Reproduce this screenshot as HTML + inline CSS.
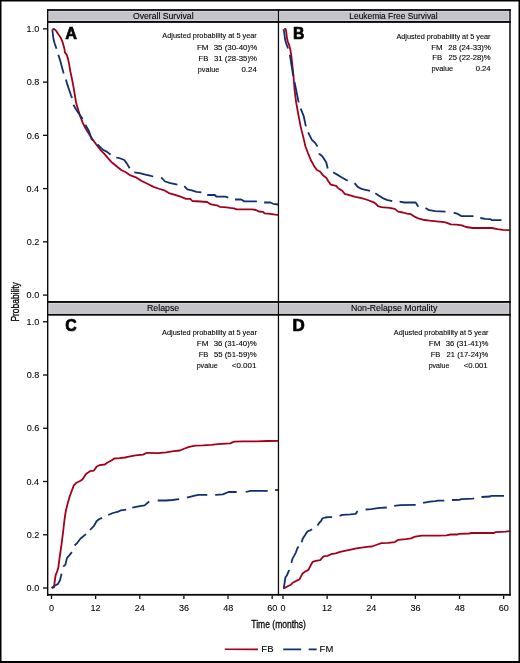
<!DOCTYPE html><html><head><meta charset="utf-8"><style>html,body{margin:0;padding:0;background:#fff;}svg{display:block;will-change:transform;}text{font-family:"Liberation Sans",sans-serif;fill:#000;stroke:#000;stroke-width:0.1px;} text.tk{stroke-width:0.08px;} text.ax{stroke-width:0.3px;}</style></head><body>
<svg width="520" height="663" viewBox="0 0 520 663">
<rect x="0" y="0" width="520" height="663" fill="#fff"/>
<rect x="48.4" y="10.9" width="229.4" height="10.1" fill="#D8D6DD"/>
<rect x="49.4" y="11.9" width="227.4" height="8.1" fill="#C5C4C8"/>
<rect x="279.1" y="10.9" width="230.09999999999997" height="10.1" fill="#D8D6DD"/>
<rect x="280.1" y="11.9" width="228.09999999999997" height="8.1" fill="#C5C4C8"/>
<rect x="48.4" y="302.9" width="229.4" height="11.0" fill="#D8D6DD"/>
<rect x="49.4" y="303.9" width="227.4" height="9.0" fill="#C5C4C8"/>
<rect x="279.1" y="302.9" width="230.09999999999997" height="11.0" fill="#D8D6DD"/>
<rect x="280.1" y="303.9" width="228.09999999999997" height="9.0" fill="#C5C4C8"/>
<polyline points="52.4,29.3 54.0,28.9 55.9,30.6 58.3,34.3 60.1,36.7 61.9,40.3 63.1,43.9 64.3,48.2 64.9,52.4 66.7,54.8 67.9,58.4 69.1,63.9 70.3,71.1 71.6,77.1 72.8,83.2 74.0,89.8 75.0,96.0 76.1,102.7 78.1,109.5 80.2,116.2 82.8,122.9 85.5,128.3 88.9,133.7 92.3,139.1 96.3,144.5 100.3,149.8 104.4,153.9 108.4,158.6 112.3,162.8 116.6,166.2 121.2,170.0 125.8,172.3 130.5,175.4 136.6,177.7 141.2,180.8 147.4,183.8 153.5,186.9 158.2,188.5 164.3,190.3 168.9,193.1 175.1,194.9 181.2,196.9 186.0,198.9 190.3,198.9 192.3,201.0 200.4,201.5 207.2,202.0 211.0,204.4 216.8,205.3 219.7,206.8 226.4,207.3 230.0,207.9 233.8,208.3 236.7,209.3 252.1,209.3 256.0,210.0 258.8,211.5 263.2,211.8 264.6,213.4 270.4,213.9 275.2,214.7 278.0,214.8" fill="none" stroke="#A3001C" stroke-width="1.8" stroke-linejoin="round"/>
<polyline points="284.3,29.0 285.6,28.9 286.2,31.5 286.9,37.6 287.7,41.3 289.2,45.1 290.3,49.6 291.1,54.2 291.8,60.2 292.6,67.5 293.4,74.5 294.6,90.2 296.1,102.2 298.3,114.3 300.6,126.4 303.6,138.4 305.4,146.2 307.7,152.3 310.8,160.0 314.6,166.9 316.9,170.0 320.0,171.5 323.1,175.4 326.2,177.7 328.5,181.5 330.8,184.6 336.2,185.8 338.5,188.5 342.3,190.8 344.6,193.8 349.2,195.1 355.4,196.9 361.5,198.2 367.7,200.0 373.8,202.3 376.0,203.9 378.0,206.2 381.4,207.1 389.5,207.9 394.8,208.9 398.2,211.6 402.9,212.5 407.0,213.6 411.0,214.2 415.0,216.9 419.1,218.7 424.5,220.0 429.8,220.7 436.6,221.4 441.9,221.9 445.5,222.3 450.9,224.3 456.4,224.6 461.9,225.3 466.0,227.0 472.8,228.0 491.9,228.0 497.4,229.1 502.8,229.8 509.5,230.1" fill="none" stroke="#A3001C" stroke-width="1.8" stroke-linejoin="round"/>
<polyline points="51.6,588.0 54.0,587.4 54.5,583.0 55.6,575.4 57.2,571.1 58.3,567.8 59.4,559.1 60.5,551.5 61.6,543.9 62.7,535.2 63.6,527.5 64.4,520.4 65.8,511.0 67.8,502.9 69.8,496.1 71.8,490.8 73.8,485.4 76.5,482.7 80.6,480.7 82.6,479.3 86.0,473.9 90.0,471.2 94.0,470.6 96.7,466.5 99.4,465.2 104.8,464.5 107.5,462.5 111.5,460.5 114.2,458.5 119.6,458.1 125.0,457.5 127.7,456.9 135.4,455.4 143.1,454.6 146.9,452.8 158.5,453.1 166.2,452.3 173.8,451.2 180.0,450.5 184.6,448.5 189.2,446.9 195.4,445.7 203.2,445.4 211.3,444.9 217.9,444.1 230.1,443.3 234.2,441.7 242.4,441.3 257.1,441.3 266.9,441.0 278.0,440.8" fill="none" stroke="#A3001C" stroke-width="1.8" stroke-linejoin="round"/>
<polyline points="283.3,588.3 284.3,588.2 287.6,586.3 290.9,584.7 293.0,582.5 296.3,580.9 299.6,579.2 302.3,573.8 305.0,571.6 308.3,570.0 312.6,561.8 315.9,560.8 320.2,560.2 323.5,556.4 327.5,555.9 331.0,554.2 335.6,553.3 340.2,551.9 346.0,550.7 351.8,549.4 356.4,548.4 363.3,547.3 369.1,546.7 372.0,546.5 377.4,544.5 381.4,543.1 388.2,542.9 394.9,542.1 398.2,539.8 405.6,539.1 411.0,538.4 415.1,536.7 421.8,535.7 429.9,535.7 438.0,535.6 446.4,535.4 450.6,534.5 457.7,534.5 459.1,533.8 468.9,533.5 471.7,533.0 494.2,533.0 495.6,532.1 505.4,531.6 509.6,531.2" fill="none" stroke="#A3001C" stroke-width="1.8" stroke-linejoin="round"/>
<polyline points="52.4,29.3 52.8,33.7 53.4,38.5 54.6,43.3 56.5,48.8" fill="none" stroke="#12306E" stroke-width="1.8" stroke-linejoin="round"/>
<polyline points="58.3,54.8 60.1,60.2 61.9,66.9 63.7,73.5" fill="none" stroke="#12306E" stroke-width="1.8" stroke-linejoin="round"/>
<polyline points="65.9,79.6 67.3,84.4 69.1,89.8 71.0,95.3 72.1,98.0" fill="none" stroke="#12306E" stroke-width="1.8" stroke-linejoin="round"/>
<polyline points="73.4,104.7 76.1,109.5 78.8,113.5 82.2,118.2 82.6,119.0" fill="none" stroke="#12306E" stroke-width="1.8" stroke-linejoin="round"/>
<polyline points="85.4,124.8 85.5,124.9 88.9,131.0 91.6,139.1 93.1,140.3" fill="none" stroke="#12306E" stroke-width="1.8" stroke-linejoin="round"/>
<polyline points="97.5,144.4 99.0,145.8 103.0,149.8 107.1,151.9 110.4,154.5 110.6,154.6" fill="none" stroke="#12306E" stroke-width="1.8" stroke-linejoin="round"/>
<polyline points="116.3,157.3 116.6,157.4 120.5,158.5 124.3,160.0 126.6,163.1 129.7,168.2" fill="none" stroke="#12306E" stroke-width="1.8" stroke-linejoin="round"/>
<polyline points="134.3,172.3 139.7,173.1 144.3,174.3 148.9,175.4 153.2,176.5" fill="none" stroke="#12306E" stroke-width="1.8" stroke-linejoin="round"/>
<polyline points="161.2,177.4 165.1,181.5 170.5,183.1 177.4,184.6" fill="none" stroke="#12306E" stroke-width="1.8" stroke-linejoin="round"/>
<polyline points="184.3,186.2 187.4,189.4 191.8,190.4 196.6,191.9 201.4,192.3" fill="none" stroke="#12306E" stroke-width="1.8" stroke-linejoin="round"/>
<polyline points="207.2,195.0 214.8,195.0 216.3,196.5 225.4,196.7 228.3,197.6" fill="none" stroke="#12306E" stroke-width="1.8" stroke-linejoin="round"/>
<polyline points="235.0,199.5 241.1,199.5 244.4,201.4 256.9,201.4" fill="none" stroke="#12306E" stroke-width="1.8" stroke-linejoin="round"/>
<polyline points="264.1,202.5 270.4,202.5 273.3,203.8 278.0,204.5" fill="none" stroke="#12306E" stroke-width="1.8" stroke-linejoin="round"/>
<polyline points="283.5,29.3 284.3,33.0 285.0,39.1 286.2,43.6 287.7,47.4 288.0,48.4" fill="none" stroke="#12306E" stroke-width="1.8" stroke-linejoin="round"/>
<polyline points="289.9,54.8 289.9,54.9 290.7,60.2 291.8,67.0 293.0,74.5 293.3,76.0" fill="none" stroke="#12306E" stroke-width="1.8" stroke-linejoin="round"/>
<polyline points="294.6,82.2 295.3,85.6 298.3,100.7 298.8,102.4" fill="none" stroke="#12306E" stroke-width="1.8" stroke-linejoin="round"/>
<polyline points="300.7,108.6 303.6,115.8 305.9,126.4" fill="none" stroke="#12306E" stroke-width="1.8" stroke-linejoin="round"/>
<polyline points="308.1,132.4 311.9,139.9 315.4,143.1 317.5,146.5" fill="none" stroke="#12306E" stroke-width="1.8" stroke-linejoin="round"/>
<polyline points="319.2,153.6 319.2,153.8 322.3,156.2 326.2,162.3 327.7,168.5" fill="none" stroke="#12306E" stroke-width="1.8" stroke-linejoin="round"/>
<polyline points="333.1,172.3 338.5,175.4 342.3,177.7 347.7,180.8" fill="none" stroke="#12306E" stroke-width="1.8" stroke-linejoin="round"/>
<polyline points="354.6,183.1 357.7,186.9 362.3,189.2 370.0,190.8" fill="none" stroke="#12306E" stroke-width="1.8" stroke-linejoin="round"/>
<polyline points="375.3,193.3 378.7,195.4 382.7,198.1 386.8,199.8 392.2,201.1" fill="none" stroke="#12306E" stroke-width="1.8" stroke-linejoin="round"/>
<polyline points="399.6,201.7 404.3,202.5 415.7,202.5 418.4,206.8" fill="none" stroke="#12306E" stroke-width="1.8" stroke-linejoin="round"/>
<polyline points="425.5,207.9 429.2,210.2 435.2,211.1 445.5,211.6" fill="none" stroke="#12306E" stroke-width="1.8" stroke-linejoin="round"/>
<polyline points="453.7,212.6 457.8,213.9 461.2,216.1 473.5,216.1" fill="none" stroke="#12306E" stroke-width="1.8" stroke-linejoin="round"/>
<polyline points="480.3,218.0 485.1,218.9 490.5,219.1 491.9,220.2 501.5,220.2" fill="none" stroke="#12306E" stroke-width="1.8" stroke-linejoin="round"/>
<polyline points="51.5,587.8 52.3,587.4 54.5,585.8 57.8,584.1 60.0,580.3 61.6,573.8" fill="none" stroke="#12306E" stroke-width="1.8" stroke-linejoin="round"/>
<polyline points="63.2,566.7 65.4,564.6 67.0,558.0 69.7,554.8 71.9,552.1" fill="none" stroke="#12306E" stroke-width="1.8" stroke-linejoin="round"/>
<polyline points="74.6,545.5 77.3,542.8 80.6,538.5 86.0,534.1" fill="none" stroke="#12306E" stroke-width="1.8" stroke-linejoin="round"/>
<polyline points="90.0,530.0 94.0,525.8 96.7,521.0 99.4,519.0 102.1,517.9" fill="none" stroke="#12306E" stroke-width="1.8" stroke-linejoin="round"/>
<polyline points="108.2,515.0 112.9,513.0 118.3,511.6 121.0,510.3 126.2,509.7" fill="none" stroke="#12306E" stroke-width="1.8" stroke-linejoin="round"/>
<polyline points="132.3,507.7 140.0,506.2 144.6,505.4 149.2,501.5" fill="none" stroke="#12306E" stroke-width="1.8" stroke-linejoin="round"/>
<polyline points="157.7,500.5 166.2,500.5 172.3,500.0 179.2,499.2" fill="none" stroke="#12306E" stroke-width="1.8" stroke-linejoin="round"/>
<polyline points="186.9,497.7 193.8,495.8 198.3,494.9 207.3,494.9" fill="none" stroke="#12306E" stroke-width="1.8" stroke-linejoin="round"/>
<polyline points="215.2,494.9 216.2,494.9 222.8,494.4 228.5,492.0 236.7,492.0" fill="none" stroke="#12306E" stroke-width="1.8" stroke-linejoin="round"/>
<polyline points="245.7,492.0 250.6,490.8 267.7,490.8" fill="none" stroke="#12306E" stroke-width="1.8" stroke-linejoin="round"/>
<polyline points="275.1,490.0 278.0,490.0" fill="none" stroke="#12306E" stroke-width="1.8" stroke-linejoin="round"/>
<polyline points="283.3,588.3 283.8,587.9 284.6,583.0 285.4,577.6 287.1,574.9 288.7,571.1 289.2,570.0" fill="none" stroke="#12306E" stroke-width="1.8" stroke-linejoin="round"/>
<polyline points="291.4,562.9 292.5,558.6 294.1,555.9 295.8,552.6 297.4,548.3 298.5,546.6" fill="none" stroke="#12306E" stroke-width="1.8" stroke-linejoin="round"/>
<polyline points="301.7,542.3 302.8,538.5 305.0,535.2 306.6,532.5 308.3,530.9 310.4,530.3 312.1,529.2" fill="none" stroke="#12306E" stroke-width="1.8" stroke-linejoin="round"/>
<polyline points="317.5,525.4 319.5,522.5 321.2,520.8 322.3,518.5 325.2,517.5 328.7,517.1 332.1,517.1" fill="none" stroke="#12306E" stroke-width="1.8" stroke-linejoin="round"/>
<polyline points="339.6,515.9 342.5,514.8 350.6,514.4 355.8,513.8 357.5,511.0" fill="none" stroke="#12306E" stroke-width="1.8" stroke-linejoin="round"/>
<polyline points="365.6,509.5 371.4,509.2 376.0,508.4 380.1,507.9 386.8,507.5" fill="none" stroke="#12306E" stroke-width="1.8" stroke-linejoin="round"/>
<polyline points="394.2,505.9 400.3,505.1 415.7,504.8" fill="none" stroke="#12306E" stroke-width="1.8" stroke-linejoin="round"/>
<polyline points="423.1,502.8 429.9,501.7 435.3,501.2 438.0,500.7 444.3,500.7" fill="none" stroke="#12306E" stroke-width="1.8" stroke-linejoin="round"/>
<polyline points="452.0,500.0 459.8,499.8 461.2,499.1 473.1,498.6 473.8,497.9" fill="none" stroke="#12306E" stroke-width="1.8" stroke-linejoin="round"/>
<polyline points="481.5,497.0 490.0,496.5 491.4,495.8 504.0,495.8" fill="none" stroke="#12306E" stroke-width="1.8" stroke-linejoin="round"/>
<rect x="47" y="9.10" width="463.8" height="1.8" fill="#0a0a0a"/>
<rect x="47" y="21.00" width="463.8" height="1.9" fill="#0a0a0a"/>
<rect x="47" y="301.00" width="463.8" height="1.9" fill="#0a0a0a"/>
<rect x="47" y="313.90" width="463.8" height="1.8" fill="#0a0a0a"/>
<rect x="47" y="593.90" width="463.8" height="1.8" fill="#0a0a0a"/>
<rect x="47.00" y="9.1" width="1.4" height="586.6" fill="#0a0a0a"/>
<rect x="509.25" y="9.1" width="1.5" height="586.6" fill="#0a0a0a"/>
<rect x="277.80" y="9.1" width="1.3" height="586.6" fill="#0a0a0a"/>
<rect x="0" y="0" width="520" height="1.5" fill="#000"/>
<rect x="0" y="661" width="520" height="2" fill="#000"/>
<rect x="0" y="0" width="1.5" height="663" fill="#000"/>
<rect x="518.5" y="0" width="1.5" height="663" fill="#000"/>
<rect x="43" y="294.45" width="4.5" height="1.3" fill="#0a0a0a"/>
<text x="26.61" y="298.30" font-size="9.10" textLength="12.65" lengthAdjust="spacingAndGlyphs" class="tk">0.0</text>
<rect x="43" y="241.20" width="4.5" height="1.3" fill="#0a0a0a"/>
<text x="26.71" y="245.05" font-size="9.10" textLength="12.65" lengthAdjust="spacingAndGlyphs" class="tk">0.2</text>
<rect x="43" y="187.95" width="4.5" height="1.3" fill="#0a0a0a"/>
<text x="26.51" y="191.80" font-size="9.10" textLength="12.65" lengthAdjust="spacingAndGlyphs" class="tk">0.4</text>
<rect x="43" y="134.70" width="4.5" height="1.3" fill="#0a0a0a"/>
<text x="26.65" y="138.55" font-size="9.10" textLength="12.65" lengthAdjust="spacingAndGlyphs" class="tk">0.6</text>
<rect x="43" y="81.45" width="4.5" height="1.3" fill="#0a0a0a"/>
<text x="26.64" y="85.30" font-size="9.10" textLength="12.65" lengthAdjust="spacingAndGlyphs" class="tk">0.8</text>
<rect x="43" y="28.20" width="4.5" height="1.3" fill="#0a0a0a"/>
<text x="26.61" y="32.05" font-size="9.10" textLength="12.65" lengthAdjust="spacingAndGlyphs" class="tk">1.0</text>
<rect x="43" y="587.35" width="4.5" height="1.3" fill="#0a0a0a"/>
<text x="26.61" y="591.20" font-size="9.10" textLength="12.65" lengthAdjust="spacingAndGlyphs" class="tk">0.0</text>
<rect x="43" y="534.10" width="4.5" height="1.3" fill="#0a0a0a"/>
<text x="26.71" y="537.95" font-size="9.10" textLength="12.65" lengthAdjust="spacingAndGlyphs" class="tk">0.2</text>
<rect x="43" y="480.85" width="4.5" height="1.3" fill="#0a0a0a"/>
<text x="26.51" y="484.70" font-size="9.10" textLength="12.65" lengthAdjust="spacingAndGlyphs" class="tk">0.4</text>
<rect x="43" y="427.60" width="4.5" height="1.3" fill="#0a0a0a"/>
<text x="26.65" y="431.45" font-size="9.10" textLength="12.65" lengthAdjust="spacingAndGlyphs" class="tk">0.6</text>
<rect x="43" y="374.35" width="4.5" height="1.3" fill="#0a0a0a"/>
<text x="26.64" y="378.20" font-size="9.10" textLength="12.65" lengthAdjust="spacingAndGlyphs" class="tk">0.8</text>
<rect x="43" y="321.10" width="4.5" height="1.3" fill="#0a0a0a"/>
<text x="26.61" y="324.95" font-size="9.10" textLength="12.65" lengthAdjust="spacingAndGlyphs" class="tk">1.0</text>
<rect x="50.85" y="595.5" width="1.3" height="3.5" fill="#0a0a0a"/>
<text x="49.07" y="610.90" font-size="9.10" textLength="5.06" lengthAdjust="spacingAndGlyphs" class="tk">0</text>
<rect x="94.98" y="595.5" width="1.3" height="3.5" fill="#0a0a0a"/>
<text x="90.55" y="610.90" font-size="9.10" textLength="10.12" lengthAdjust="spacingAndGlyphs" class="tk">12</text>
<rect x="139.11" y="595.5" width="1.3" height="3.5" fill="#0a0a0a"/>
<text x="134.70" y="610.90" font-size="9.10" textLength="10.12" lengthAdjust="spacingAndGlyphs" class="tk">24</text>
<rect x="183.24" y="595.5" width="1.3" height="3.5" fill="#0a0a0a"/>
<text x="178.96" y="610.90" font-size="9.10" textLength="10.12" lengthAdjust="spacingAndGlyphs" class="tk">36</text>
<rect x="227.37" y="595.5" width="1.3" height="3.5" fill="#0a0a0a"/>
<text x="223.15" y="610.90" font-size="9.10" textLength="10.12" lengthAdjust="spacingAndGlyphs" class="tk">48</text>
<rect x="271.50" y="595.5" width="1.3" height="3.5" fill="#0a0a0a"/>
<text x="267.14" y="610.90" font-size="9.10" textLength="10.12" lengthAdjust="spacingAndGlyphs" class="tk">60</text>
<rect x="282.35" y="595.5" width="1.3" height="3.5" fill="#0a0a0a"/>
<text x="280.57" y="610.90" font-size="9.10" textLength="5.06" lengthAdjust="spacingAndGlyphs" class="tk">0</text>
<rect x="326.48" y="595.5" width="1.3" height="3.5" fill="#0a0a0a"/>
<text x="322.05" y="610.90" font-size="9.10" textLength="10.12" lengthAdjust="spacingAndGlyphs" class="tk">12</text>
<rect x="370.61" y="595.5" width="1.3" height="3.5" fill="#0a0a0a"/>
<text x="366.20" y="610.90" font-size="9.10" textLength="10.12" lengthAdjust="spacingAndGlyphs" class="tk">24</text>
<rect x="414.74" y="595.5" width="1.3" height="3.5" fill="#0a0a0a"/>
<text x="410.46" y="610.90" font-size="9.10" textLength="10.12" lengthAdjust="spacingAndGlyphs" class="tk">36</text>
<rect x="458.87" y="595.5" width="1.3" height="3.5" fill="#0a0a0a"/>
<text x="454.65" y="610.90" font-size="9.10" textLength="10.12" lengthAdjust="spacingAndGlyphs" class="tk">48</text>
<rect x="503.00" y="595.5" width="1.3" height="3.5" fill="#0a0a0a"/>
<text x="498.64" y="610.90" font-size="9.10" textLength="10.12" lengthAdjust="spacingAndGlyphs" class="tk">60</text>
<text x="132.99" y="18.60" font-size="9.40" textLength="60.59" lengthAdjust="spacingAndGlyphs">Overall Survival</text>
<text x="349.31" y="18.60" font-size="9.40" textLength="88.36" lengthAdjust="spacingAndGlyphs">Leukemia Free Survival</text>
<text x="146.98" y="310.80" font-size="9.40" textLength="32.31" lengthAdjust="spacingAndGlyphs">Relapse</text>
<text x="350.88" y="310.80" font-size="9.40" textLength="86.43" lengthAdjust="spacingAndGlyphs">Non-Relapse Mortality</text>
<text x="65.14" y="38.55" font-size="16.30" textLength="11.73" lengthAdjust="spacingAndGlyphs" font-weight="bold" style="fill:#000;stroke:#000;stroke-width:0.7px;stroke-linejoin:round">A</text>
<text x="293.00" y="38.75" font-size="16.30" textLength="11.37" lengthAdjust="spacingAndGlyphs" font-weight="bold" style="fill:#000;stroke:#000;stroke-width:0.7px;stroke-linejoin:round">B</text>
<text x="65.30" y="330.95" font-size="16.30" textLength="11.48" lengthAdjust="spacingAndGlyphs" font-weight="bold" style="fill:#000;stroke:#000;stroke-width:0.7px;stroke-linejoin:round">C</text>
<text x="292.61" y="330.55" font-size="16.30" textLength="12.25" lengthAdjust="spacingAndGlyphs" font-weight="bold" style="fill:#000;stroke:#000;stroke-width:0.7px;stroke-linejoin:round">D</text>
<text x="162.29" y="38.00" font-size="7.60" textLength="94.53" lengthAdjust="spacingAndGlyphs">Adjusted probability at 5 year</text>
<text x="196.94" y="49.50" font-size="7.60" textLength="11.62" lengthAdjust="spacingAndGlyphs">FM</text>
<text x="213.70" y="49.50" font-size="7.60" textLength="43.48" lengthAdjust="spacingAndGlyphs">35 (30-40)%</text>
<text x="198.58" y="60.80" font-size="7.60" textLength="9.73" lengthAdjust="spacingAndGlyphs">FB</text>
<text x="213.90" y="60.80" font-size="7.60" textLength="43.17" lengthAdjust="spacingAndGlyphs">31 (28-35)%</text>
<text x="197.84" y="72.10" font-size="7.60" textLength="21.38" lengthAdjust="spacingAndGlyphs">pvalue</text>
<text x="241.49" y="72.10" font-size="7.60" textLength="15.34" lengthAdjust="spacingAndGlyphs">0.24</text>
<text x="396.39" y="38.60" font-size="7.60" textLength="94.13" lengthAdjust="spacingAndGlyphs">Adjusted probability at 5 year</text>
<text x="431.15" y="49.70" font-size="7.60" textLength="11.39" lengthAdjust="spacingAndGlyphs">FM</text>
<text x="448.21" y="49.70" font-size="7.60" textLength="42.56" lengthAdjust="spacingAndGlyphs">28 (24-33)%</text>
<text x="432.36" y="60.30" font-size="7.60" textLength="9.95" lengthAdjust="spacingAndGlyphs">FB</text>
<text x="448.42" y="60.30" font-size="7.60" textLength="42.25" lengthAdjust="spacingAndGlyphs">25 (22-28)%</text>
<text x="431.53" y="71.40" font-size="7.60" textLength="21.59" lengthAdjust="spacingAndGlyphs">pvalue</text>
<text x="475.70" y="71.40" font-size="7.60" textLength="14.92" lengthAdjust="spacingAndGlyphs">0.24</text>
<text x="162.09" y="334.80" font-size="7.60" textLength="94.83" lengthAdjust="spacingAndGlyphs">Adjusted probability at 5 year</text>
<text x="196.83" y="346.00" font-size="7.60" textLength="11.73" lengthAdjust="spacingAndGlyphs">FM</text>
<text x="213.70" y="346.00" font-size="7.60" textLength="43.07" lengthAdjust="spacingAndGlyphs">36 (31-40)%</text>
<text x="198.63" y="357.00" font-size="7.60" textLength="9.67" lengthAdjust="spacingAndGlyphs">FB</text>
<text x="213.94" y="357.00" font-size="7.60" textLength="42.83" lengthAdjust="spacingAndGlyphs">55 (51-59)%</text>
<text x="196.64" y="367.90" font-size="7.60" textLength="21.17" lengthAdjust="spacingAndGlyphs">pvalue</text>
<text x="231.71" y="367.90" font-size="7.60" textLength="24.79" lengthAdjust="spacingAndGlyphs">&lt;0.001</text>
<text x="393.79" y="334.80" font-size="7.60" textLength="94.63" lengthAdjust="spacingAndGlyphs">Adjusted probability at 5 year</text>
<text x="428.83" y="346.00" font-size="7.60" textLength="11.73" lengthAdjust="spacingAndGlyphs">FM</text>
<text x="445.71" y="346.00" font-size="7.60" textLength="42.67" lengthAdjust="spacingAndGlyphs">36 (31-41)%</text>
<text x="430.63" y="357.00" font-size="7.60" textLength="9.67" lengthAdjust="spacingAndGlyphs">FB</text>
<text x="446.62" y="357.00" font-size="7.60" textLength="41.74" lengthAdjust="spacingAndGlyphs">21 (17-24)%</text>
<text x="428.65" y="367.90" font-size="7.60" textLength="20.76" lengthAdjust="spacingAndGlyphs">pvalue</text>
<text x="463.72" y="367.90" font-size="7.60" textLength="23.96" lengthAdjust="spacingAndGlyphs">&lt;0.001</text>
<g transform="translate(18.7,0) rotate(-90)"><text x="-321.59" y="0.00" font-size="11.80" textLength="39.31" lengthAdjust="spacingAndGlyphs" class="ax">Probability</text></g>
<text x="251.31" y="627.80" font-size="11.80" textLength="54.62" lengthAdjust="spacingAndGlyphs" class="ax">Time (months)</text>
<line x1="224.8" y1="649.3" x2="258" y2="649.4" stroke="#A3001C" stroke-width="1.6"/>
<text x="261.32" y="652.10" font-size="8.90" textLength="12.19" lengthAdjust="spacingAndGlyphs">FB</text>
<line x1="283.2" y1="649.4" x2="316.7" y2="649.4" stroke="#12306E" stroke-width="1.6" stroke-dasharray="18 7.5"/>
<text x="319.62" y="652.10" font-size="8.90" textLength="13.65" lengthAdjust="spacingAndGlyphs">FM</text>
</svg></body></html>
